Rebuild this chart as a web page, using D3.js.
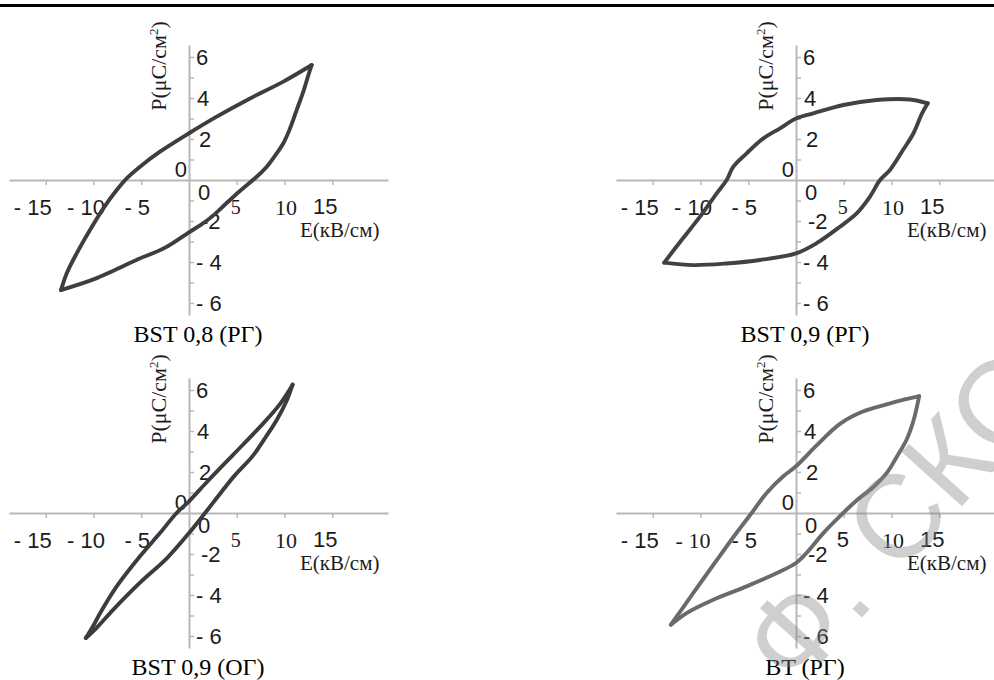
<!DOCTYPE html>
<meta charset="utf-8">
<script src="https://d3js.org/d3.v7.min.js"></script>
<style>
    body { margin: 0; background: #fff; }
</style>
<div id="plot_div"></div>
<script>
    // hysteresis loops P(E): upper branch and lower branch, tip to tip
    var bst08_up = [[-13.4, -5.37], [-12.8, -4.55], [-11.76, -3.58], [-10.37, -2.44], [-8.97, -1.38], [-7.57, -0.49], [-6.52, 0.08], [-5.13, 0.65], [-3.04, 1.38], [0, 2.28], [2.9, 3.09], [6.39, 3.98], [9.88, 4.8], [12.85, 5.61]];
    var bst08_down = [[12.85, 5.61], [12.5, 5.12], [11.97, 4.31], [11.27, 3.41], [10.58, 2.52], [9.88, 1.79], [9.18, 1.3], [8.14, 0.65], [7.09, 0.16], [5.3, -0.55], [4.0, -1.1], [2.5, -1.75], [1.2, -2.2], [0, -2.55], [-2.5, -3.3], [-5.5, -3.9], [-7.8, -4.4], [-10.0, -4.85], [-13.4, -5.37]];

    var bst09r_up = [[-13.8, -4.03], [-12.1, -3.0], [-10.05, -1.79], [-8.3, -0.65], [-7.26, 0], [-6.56, 0.65], [-5.17, 1.3], [-3.42, 2.03], [-1.68, 2.52], [0, 3.0], [1.8, 3.25], [4.96, 3.66], [8.45, 3.9], [11.9, 3.93], [13.8, 3.74]];
    var bst09r_down = [[13.8, 3.74], [13.2, 3.25], [12.3, 2.28], [11.2, 1.46], [9.84, 0.49], [8.8, 0], [7.75, -0.81], [6.35, -1.63], [4.6, -2.28], [2.2, -3.07], [0, -3.58], [-3.77, -3.9], [-7.26, -4.07], [-10.75, -4.15], [-13.8, -4.03]];

    var bst09o_up = [[-10.8, -6.1], [-9.9, -5.4], [-9.3, -4.88], [-7.57, -3.58], [-5.13, -2.11], [-3.04, -0.98], [-1.3, 0], [0, 0.57], [1.85, 1.5], [4.64, 2.85], [7.43, 4.2], [9.5, 5.3], [10.85, 6.26]];
    var bst09o_down = [[10.85, 6.26], [10.2, 5.45], [9.2, 4.55], [8.1, 3.75], [6.7, 2.8], [4.64, 1.75], [2.55, 0.52], [1.68, 0], [0, -0.98], [-2.3, -2.2], [-5.13, -3.4], [-7.9, -4.7], [-9.67, -5.6], [-10.8, -6.1]];

    var bt_up = [[-13.1, -5.45], [-10.75, -3.9], [-8.3, -2.3], [-6.2, -0.95], [-4.64, 0], [-3.07, 0.98], [-1.33, 1.79], [0, 2.28], [2.16, 3.3], [4.6, 4.35], [7.0, 4.95], [9.5, 5.3], [11.5, 5.55], [12.9, 5.7]];
    var bt_down = [[12.9, 5.7], [12.3, 4.5], [11.6, 3.6], [10.5, 2.7], [9.5, 1.95], [8.1, 1.27], [6.4, 0.63], [4.5, -0.2], [2.86, -0.98], [1.1, -1.95], [0, -2.44], [-2.0, -2.93], [-5.17, -3.58], [-8.66, -4.23], [-11.45, -4.88], [-13.1, -5.45]];

    var titles = ["BST 0,8 (РГ)", "BST 0,9 (РГ)", "BST 0,9 (ОГ)", "BT (РГ)"];
    var x_tick_values = [-15, -10, -5, 5, 10, 15];
    var x_tick_labels = ["- 15", "- 10", "- 5", "5", "10", "15"];
    var y_tick_values = [-6, -5, -4, -3, -2, -1, 1, 2, 3, 4, 5, 6];
    var y_label_values = [6, 4, 2, -2, -4, -6];
    var y_labels = ["6", "4", "2", "-2", "- 4", "- 6"];
    var x_title = "E(кВ/см)";
    var y_title = "P(μC/см";
    var watermark = "А.Ф. СКОРОХОД";

    var width = 994, height = 680,
        unit_x = 9.55, unit_y = 20.5,
        sans = "'Liberation Sans', Arial, sans-serif",
        serif = "'Liberation Serif', 'Times New Roman', serif";

    var svg = d3.select("#plot_div")
        .append("svg")
        .attr("width", width)
        .attr("height", height)
        .style("display", "block");

    svg.append("rect").attr("width", width).attr("height", height).attr("fill", "#fff");

    // rule across the top of the page
    svg.append("line")
        .attr("x1", 0).attr("x2", width)
        .attr("y1", 5.5).attr("y2", 5.5)
        .attr("stroke", "#000").attr("stroke-width", 3);

    var panels = [
        { ox: 189, oy: 180, up: bst08_up, down: bst08_down, title: titles[0], color: "#3e3e3e",
          fonts: [sans, sans, sans, serif, serif, sans] },
        { ox: 796, oy: 180, up: bst09r_up, down: bst09r_down, title: titles[1], color: "#424242",
          fonts: [sans, sans, sans, serif, serif, sans] },
        { ox: 189, oy: 513, up: bst09o_up, down: bst09o_down, title: titles[2], color: "#3c3c3c",
          fonts: [sans, sans, sans, serif, serif, sans] },
        { ox: 796, oy: 513, up: bt_up, down: bt_down, title: titles[3], color: "#6a6a6a",
          fonts: [sans, serif, sans, sans, serif, sans] }
    ];

    // label nudges (the original tick labels sit a little off their ticks)
    var x_label_dx = [-13, -7.5, -4, -1, 1.5, -7];
    var y_label_dx = [7, 8, 10, 12, 7, 7];

    function draw_panel(p) {
        var x = d3.scaleLinear()
            .domain([-180 / unit_x, 199 / unit_x])
            .range([p.ox - 180, p.ox + 199]);
        var y = d3.scaleLinear()
            .domain([-135 / unit_y, 135 / unit_y])
            .range([p.oy + 135, p.oy - 135]);

        var g = svg.append("g");

        var gx = g.append("g")
            .attr("transform", "translate(0," + y(0) + ")")
            .call(d3.axisBottom(x).tickValues(x_tick_values).tickSize(5).tickSizeOuter(0).tickFormat(""));
        var gy = g.append("g")
            .attr("transform", "translate(" + x(0) + ",0)")
            .call(d3.axisRight(y).tickValues(y_tick_values).tickSize(5).tickSizeOuter(0).tickFormat(""));
        [gx, gy].forEach(function (a) {
            a.selectAll("text").remove();
            a.select(".domain").attr("stroke", "#b8b8b8").attr("stroke-width", 2);
            a.selectAll(".tick line").attr("stroke", "#b8b8b8").attr("stroke-width", 1.5);
        });

        // x tick labels
        x_tick_values.forEach(function (v, i) {
            var is_serif = p.fonts[i] === serif;
            g.append("text")
                .attr("x", x(v) + x_label_dx[i])
                .attr("y", y(0) + (v === 5 ? 34 : (v === 15 ? 34 : 35)))
                .attr("text-anchor", "middle")
                .style("font-family", p.fonts[i])
                .style("font-size", is_serif ? (v === 5 ? "20px" : "22px") : "22px")
                .attr("fill", "#1c1c1c")
                .text(x_tick_labels[i]);
        });

        // y tick labels
        y_label_values.forEach(function (v, i) {
            g.append("text")
                .attr("x", x(0) + y_label_dx[i])
                .attr("y", y(v) + 8)
                .style("font-family", sans)
                .style("font-size", "22px")
                .attr("fill", "#1c1c1c")
                .text(y_labels[i]);
        });

        // the two zeros at the origin
        g.append("text").attr("x", x(0) - 2).attr("y", y(0) - 3)
            .attr("text-anchor", "end")
            .style("font-family", sans).style("font-size", "22px").attr("fill", "#1c1c1c")
            .text("0");
        g.append("text").attr("x", x(0) + 9).attr("y", y(0) + 20)
            .style("font-family", sans).style("font-size", "22px").attr("fill", "#1c1c1c")
            .text("0");

        // axis titles
        g.append("text").attr("x", x(0) + 111).attr("y", y(0) + 57)
            .style("font-family", serif).style("font-size", "21px").attr("fill", "#1c1c1c")
            .text(x_title);
        var yt = g.append("text")
            .attr("transform", "translate(" + (x(0) - 23) + "," + (y(0) - 114) + ") rotate(-90)")
            .attr("text-anchor", "middle")
            .style("font-family", serif).style("font-size", "22px").attr("fill", "#1c1c1c");
        yt.append("tspan").text(y_title);
        yt.append("tspan").attr("dy", -8).style("font-size", "13px").text("2");
        yt.append("tspan").attr("dy", 8).text(")");

        // loop
        var line = d3.line()
            .x(function (d) { return x(d[0]); })
            .y(function (d) { return y(d[1]); })
            .curve(d3.curveCatmullRom.alpha(0.5));
        [p.up, p.down].forEach(function (branch) {
            g.append("path")
                .attr("d", line(branch))
                .attr("fill", "none")
                .attr("stroke", p.color)
                .attr("stroke-width", 3.9)
                .attr("stroke-linejoin", "round")
                .attr("stroke-linecap", "round");
        });

        // caption
        g.append("text").attr("x", x(0) + 9).attr("y", y(0) + 162)
            .attr("text-anchor", "middle")
            .style("font-family", serif).style("font-size", "24px").attr("fill", "#000")
            .text(p.title);
    }

    panels.forEach(draw_panel);

    // faint diagonal watermark over the lower right panel
    svg.append("text")
        .attr("transform", "translate(720,775) rotate(-48)")
        .style("font-family", sans)
        .style("font-size", "118px")
        .attr("fill", "#888")
        .attr("fill-opacity", 0.4)
        .text(watermark);
</script>
